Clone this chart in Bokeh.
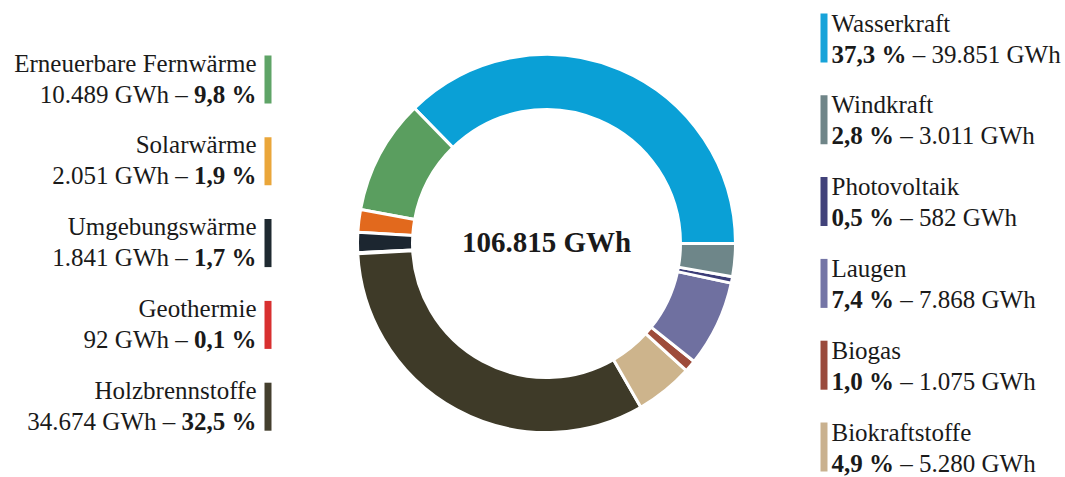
import math
from bokeh.plotting import figure
from bokeh.models import ColumnDataSource
from bokeh.core.properties import value
from bokeh.embed import file_html
from bokeh.resources import INLINE

# ---------------- data (wedge order: counter-clockwise from 3 o'clock) ----------------
names = ["Wasserkraft", "Erneuerbare Fernwärme", "Solarwärme", "Umgebungswärme",
         "Geothermie", "Holzbrennstoffe", "Biokraftstoffe", "Biogas", "Laugen",
         "Photovoltaik", "Windkraft"]
gwh = [39851, 10489, 2051, 1841, 92, 34674, 5280, 1075, 7868, 582, 3011]
pct = [37.3, 9.8, 1.9, 1.7, 0.1, 32.5, 4.9, 1.0, 7.4, 0.5, 2.8]
slice_colors = ["#0aa0d6", "#5a9e5f", "#e2691d", "#1c2630", "#d42b2b", "#3e3a28",
                "#cdb48c", "#9e4c3b", "#6f70a0", "#3c3d78", "#6e8689"]
bar_colors = ["#17a3d9", "#5fa467", "#eaa63a", "#1f2a31", "#d83030", "#443f2e",
              "#c9b18f", "#9a4a3c", "#7475a6", "#41427a", "#6f8588"]
total_label_gwh = 106815

left_items = ["Erneuerbare Fernwärme", "Solarwärme", "Umgebungswärme", "Geothermie", "Holzbrennstoffe"]
right_items = ["Wasserkraft", "Windkraft", "Photovoltaik", "Laugen", "Biogas", "Biokraftstoffe"]

# ---------------- helpers ----------------
W, H = 1065, 477
FONT = "Liberation Serif"
FS = 25
CFS = 29

def de_int(v):
    return f"{v:,}".replace(",", ".")

def de_pct(p):
    return f"{p:.1f}".replace(".", ",") + " %"

REG = {"%": 833, "–": 500, "G": 722, "W": 944, "h": 500}
BOLD = {"%": 1000, "–": 500, "G": 778, "W": 1000, "h": 556}

def text_w(s, bold=False, fs=FS):
    tbl = BOLD if bold else REG
    tot = 0
    for ch in s:
        if ch.isdigit():
            tot += 500
        elif ch in ",. ":
            tot += 250
        else:
            tot += tbl.get(ch, 500)
    return tot * fs / 1000.0

def Y(ypx, off=0.0):
    return H - (ypx - off)

p = figure(width=W, height=H, x_range=(0, W), y_range=(0, H),
           x_axis_type=None, y_axis_type=None, toolbar_location=None,
           output_backend="svg", min_border=0)
p.outline_line_color = None
p.xgrid.visible = False
p.ygrid.visible = False
p.background_fill_color = "white"
p.border_fill_color = "white"

# ---------------- donut ----------------
tot = sum(gwh)
starts, ends = [], []
c = 0
for v in gwh:
    starts.append(2 * math.pi * c / tot)
    c += v
    ends.append(2 * math.pi * c / tot)

cx, cy = 546, 243
src = ColumnDataSource(dict(x=[cx] * len(names), y=[Y(cy)] * len(names),
                            start=starts, end=ends, color=slice_colors, name=names))
p.annular_wedge(x="x", y="y", inner_radius=134, outer_radius=189,
                start_angle="start", end_angle="end", direction="anticlock",
                fill_color="color", line_color="white", line_width=3, source=src)

p.text(x=[cx], y=[Y(253, 0.4 * CFS)], text=[de_int(total_label_gwh) + " GWh"],
       text_font=value(FONT), text_font_size=value(f"{CFS}px"), text_font_style="bold",
       text_align="center", text_baseline="alphabetic", text_color="#1a1a1a")

TXT = "#1a1a1a"
STEP = 81.8
OFF = 0.3 * FS

def put(xs, ys, texts, align, bold):
    p.text(x=xs, y=ys, text=texts, text_font=value(FONT), text_font_size=value(f"{FS}px"),
           text_font_style="bold" if bold else "normal", text_align=align,
           text_baseline="alphabetic", text_color=TXT)

# ---------------- left legend ----------------
xr = 256
l_name_x, l_name_y, l_name_t = [], [], []
l_bold_x, l_bold_y, l_bold_t = [], [], []
l_reg_x, l_reg_y, l_reg_t = [], [], []
lb = dict(left=[], right=[], top=[], bottom=[], color=[])
for i, n in enumerate(left_items):
    k = names.index(n)
    y1 = 70 + STEP * i
    y2 = 101 + STEP * i
    l_name_x.append(xr); l_name_y.append(Y(y1, OFF)); l_name_t.append(n)
    bt = de_pct(pct[k])
    l_bold_x.append(xr); l_bold_y.append(Y(y2, OFF)); l_bold_t.append(bt)
    rt = de_int(gwh[k]) + " GWh –"
    l_reg_x.append(xr - text_w(bt, True) - text_w(" ")); l_reg_y.append(Y(y2, OFF)); l_reg_t.append(rt)
    lb["left"].append(264); lb["right"].append(271)
    lb["top"].append(Y(55 + STEP * i)); lb["bottom"].append(Y(103 + STEP * i))
    lb["color"].append(bar_colors[k])
put(l_name_x, l_name_y, l_name_t, "right", False)
put(l_bold_x, l_bold_y, l_bold_t, "right", True)
put(l_reg_x, l_reg_y, l_reg_t, "right", False)
p.quad(left="left", right="right", top="top", bottom="bottom", fill_color="color",
       line_color=None, source=ColumnDataSource(lb))

# ---------------- right legend ----------------
xl = 831
r_name_x, r_name_y, r_name_t = [], [], []
r_bold_x, r_bold_y, r_bold_t = [], [], []
r_reg_x, r_reg_y, r_reg_t = [], [], []
rb = dict(left=[], right=[], top=[], bottom=[], color=[])
for i, n in enumerate(right_items):
    k = names.index(n)
    y1 = 30 + STEP * i
    y2 = 61 + STEP * i
    r_name_x.append(xl); r_name_y.append(Y(y1, OFF)); r_name_t.append(n)
    bt = de_pct(pct[k])
    r_bold_x.append(xl); r_bold_y.append(Y(y2, OFF)); r_bold_t.append(bt)
    rt = "– " + de_int(gwh[k]) + " GWh"
    r_reg_x.append(xl + text_w(bt, True) + text_w(" ")); r_reg_y.append(Y(y2, OFF)); r_reg_t.append(rt)
    rb["left"].append(820); rb["right"].append(827)
    rb["top"].append(Y(13 + STEP * i)); rb["bottom"].append(Y(62 + STEP * i))
    rb["color"].append(bar_colors[k])
put(r_name_x, r_name_y, r_name_t, "left", False)
put(r_bold_x, r_bold_y, r_bold_t, "left", True)
put(r_reg_x, r_reg_y, r_reg_t, "left", False)
p.quad(left="left", right="right", top="top", bottom="bottom", fill_color="color",
       line_color=None, source=ColumnDataSource(rb))

open("out.html", "w").write(file_html(p, INLINE))
